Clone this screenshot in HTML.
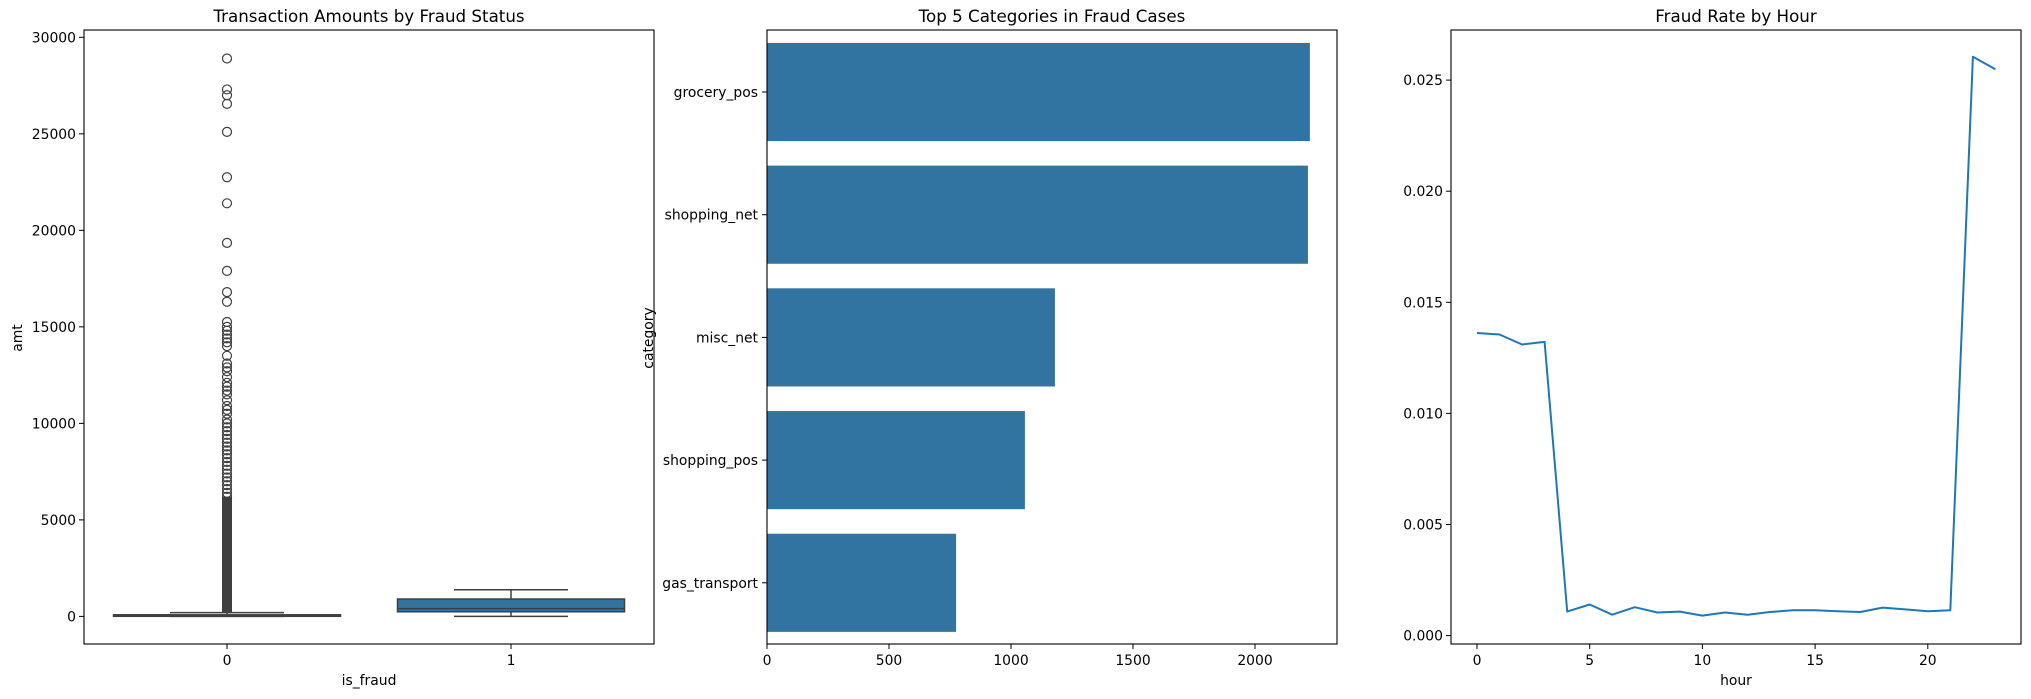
<!DOCTYPE html>
<html><head><meta charset="utf-8"><style>
html,body{margin:0;padding:0;background:#fff;}
svg{display:block;font-family:"DejaVu Sans","Liberation Sans",sans-serif;}
text{fill:#000;}
</style></head><body>
<svg id="fig" width="2031" height="699" viewBox="0 0 2031 699" xmlns="http://www.w3.org/2000/svg"></svg>
<script>
// ---- Panel 1 data ----
const boxCats = ["0", "1"];
const amtTicks = [0, 5000, 10000, 15000, 20000, 25000, 30000];
const box0 = {low: 1, q1: 9, med: 47, q3: 83, high: 195};
const box1 = {low: 2, q1: 240, med: 400, q3: 900, high: 1380};
const outliers0 = [28900, 27300, 27000, 26550, 25100, 22750, 21400, 19350, 17900, 16800, 16300, 15250, 15000, 14800, 14600, 14400, 14200, 14000, 13500, 13100, 12900, 12700, 12400, 12100, 11900, 11700, 11500, 11200, 10900, 10700, 10500, 10200, 10000, 9800, 9600, 9400, 9200, 9000, 8800, 8600, 8400, 8200, 8000, 7800, 7600, 7400, 7200, 7000, 6800, 6600, 6400, 6200];
const denseBand0 = [200, 6200];
// ---- Panel 2 data ----
const categories = ["grocery_pos", "shopping_net", "misc_net", "shopping_pos", "gas_transport"];
const counts = [2225, 2217, 1180, 1057, 775];
const countTicks = [0, 500, 1000, 1500, 2000];
// ---- Panel 3 data ----
const hours = [0,1,2,3,4,5,6,7,8,9,10,11,12,13,14,15,16,17,18,19,20,21,22,23];
const rates = [0.01362,0.01355,0.01310,0.01322,0.00108,0.00140,0.00094,0.00128,0.00104,0.00108,0.00090,0.00104,0.00094,0.00106,0.00114,0.00114,0.00110,0.00106,0.00126,0.00118,0.00110,0.00114,0.02605,0.02549];
const hourTicks = [0,5,10,15,20];
const rateTicks = [0,0.005,0.010,0.015,0.020,0.025];

const NS = "http://www.w3.org/2000/svg";
const fig = document.getElementById('fig');
function mk(tag, attrs, parent, txt) {
  const e = document.createElementNS(NS, tag);
  for (const k in attrs) e.setAttribute(k, attrs[k]);
  if (txt !== undefined) e.textContent = txt;
  (parent || fig).appendChild(e);
  return e;
}
const FS = 13.9, TFS = 16.7;
const TOP = 30, BOT = 644;

// ===== Panel 1 =====
const p1 = {l:84, r:654, t:TOP, b:BOT};
const y1 = v => 616.4 - v * (579.1/30000);
const x1 = i => 227 + i * 284;
let g1 = mk('g', {});


let t = mk('text', {x:(p1.l+p1.r)/2, y:22, 'text-anchor':'middle','font-size':TFS}, g1, 'Transaction Amounts by Fraud Status');


amtTicks.forEach(v => {
  const y = y1(v);
  mk('line', {x1:p1.l-5, x2:p1.l, y1:y, y2:y, stroke:'#000','stroke-width':1}, g1);
  const tx = mk('text', {x:p1.l-8, y:y+5, 'text-anchor':'end','font-size':FS}, g1, String(v));
  
  
});
boxCats.forEach((c,i) => {
  const x = x1(i);
  mk('line', {x1:x, x2:x, y1:p1.b, y2:p1.b+5, stroke:'#000'}, g1);
  const tx = mk('text', {x:x, y:p1.b+21, 'text-anchor':'middle','font-size':FS}, g1, c);
  
  
});
t = mk('text', {x:(p1.l+p1.r)/2, y:685, 'text-anchor':'middle','font-size':FS}, g1, 'is_fraud');


t = mk('text', {x:0, y:0, 'text-anchor':'middle','font-size':FS, transform:'translate(22,338) rotate(-90)'}, g1, 'amt');


function drawBox(b, i) {
  const cx = x1(i), hw = 113.5, cw = 57;
  const g = mk('g', {}, g1);
  
  
  mk('line', {x1:cx, x2:cx, y1:y1(b.q3), y2:y1(b.high), stroke:'#3f3f3f','stroke-width':1.5}, g);
  mk('line', {x1:cx, x2:cx, y1:y1(b.q1), y2:y1(b.low), stroke:'#3f3f3f','stroke-width':1.5}, g);
  mk('line', {x1:cx-cw, x2:cx+cw, y1:y1(b.high), y2:y1(b.high), stroke:'#3f3f3f','stroke-width':1.5}, g);
  mk('line', {x1:cx-cw, x2:cx+cw, y1:y1(b.low), y2:y1(b.low), stroke:'#3f3f3f','stroke-width':1.5}, g);
  const top = y1(b.q3), bot = y1(b.q1);
  mk('rect', {x:cx-hw, y:top, width:hw*2, height:Math.max(bot-top,1.5), fill:'#3274a1', stroke:'#3f3f3f','stroke-width':1.5}, g);
  mk('line', {x1:cx-hw, x2:cx+hw, y1:y1(b.med), y2:y1(b.med), stroke:'#3f3f3f','stroke-width':1.5}, g);
}
drawBox(box0, 0); drawBox(box1, 1);
const og = mk('g', {}, g1);


mk('rect', {x:x1(0)-5, y:y1(denseBand0[1]), width:10, height:y1(denseBand0[0])-y1(denseBand0[1]), fill:'#3f3f3f'}, og);
outliers0.forEach(v => {
  const c = mk('circle', {cx:x1(0), cy:y1(v), r:4.5, fill:'none', stroke:'#3f3f3f','stroke-width':1.2}, og);
  
  
});
mk('rect', {x:p1.l, y:p1.t, width:p1.r-p1.l, height:p1.b-p1.t, fill:'none', stroke:'#000','stroke-width':1.1}, g1);

// ===== Panel 2 =====
const p2 = {l:767, r:1337, t:TOP, b:BOT};
const x2 = v => p2.l + v * 0.244;
const band = 122.7, y2c = i => 92 + i * band;
let g2 = mk('g', {});


t = mk('text', {x:(p2.l+p2.r)/2, y:22, 'text-anchor':'middle','font-size':TFS}, g2, 'Top 5 Categories in Fraud Cases');


categories.forEach((c,i) => {
  const yc = y2c(i);
  const r = mk('rect', {x:p2.l, y:yc-band*0.4, width:x2(counts[i])-p2.l, height:band*0.8, fill:'#3274a1'}, g2);
  
  
  mk('line', {x1:p2.l-5, x2:p2.l, y1:yc, y2:yc, stroke:'#000'}, g2);
  const tx = mk('text', {x:p2.l-9, y:yc+5, 'text-anchor':'end','font-size':FS}, g2, c);
  
  
});
countTicks.forEach(v => {
  const x = x2(v);
  mk('line', {x1:x, x2:x, y1:p2.b, y2:p2.b+5, stroke:'#000'}, g2);
  const tx = mk('text', {x:x, y:p2.b+21, 'text-anchor':'middle','font-size':FS}, g2, String(v));
  
  
});
t = mk('text', {x:0, y:0, 'text-anchor':'middle','font-size':FS, transform:'translate(653,338) rotate(-90)'}, g2, 'category');


mk('rect', {x:p2.l, y:p2.t, width:p2.r-p2.l, height:p2.b-p2.t, fill:'none', stroke:'#000','stroke-width':1.1}, g2);

// ===== Panel 3 =====
const p3 = {l:1451, r:2021, t:TOP, b:BOT};
const x3 = h => 1477 + h * 22.54;
const y3 = v => 635.6 - v * (111.1/0.005);
let g3 = mk('g', {});


t = mk('text', {x:(p3.l+p3.r)/2, y:22, 'text-anchor':'middle','font-size':TFS}, g3, 'Fraud Rate by Hour');


rateTicks.forEach(v => {
  const y = y3(v);
  mk('line', {x1:p3.l-5, x2:p3.l, y1:y, y2:y, stroke:'#000'}, g3);
  const tx = mk('text', {x:p3.l-8, y:y+5, 'text-anchor':'end','font-size':FS}, g3, v.toFixed(3));
  
  
});
hourTicks.forEach(v => {
  const x = x3(v);
  mk('line', {x1:x, x2:x, y1:p3.b, y2:p3.b+5, stroke:'#000'}, g3);
  const tx = mk('text', {x:x, y:p3.b+21, 'text-anchor':'middle','font-size':FS}, g3, String(v));
  
  
});
t = mk('text', {x:(p3.l+p3.r)/2, y:685, 'text-anchor':'middle','font-size':FS}, g3, 'hour');


const pts = hours.map((h,i) => x3(h).toFixed(1) + ',' + y3(rates[i]).toFixed(1)).join(' ');
const pl = mk('polyline', {points:pts, fill:'none', stroke:'#1f77b4','stroke-width':2,'stroke-linejoin':'round'}, g3);


mk('rect', {x:p3.l, y:p3.t, width:p3.r-p3.l, height:p3.b-p3.t, fill:'none', stroke:'#000','stroke-width':1.1}, g3);
</script>
</body></html>
